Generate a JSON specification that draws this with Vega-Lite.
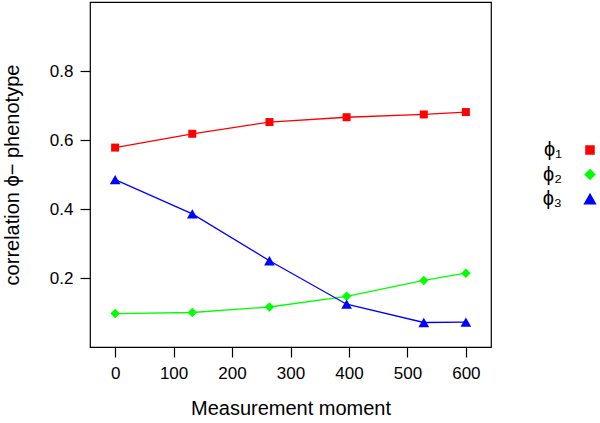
{
  "$schema": "https://vega.github.io/schema/vega-lite/v6.json",
  "width": 401,
  "height": 345,
  "autosize": "none",
  "padding": {"left": 90, "top": 2, "right": 109, "bottom": 76},
  "background": "white",
  "config": {
    "font": "Liberation Sans",
    "view": {"stroke": "black", "strokeWidth": 1.2},
    "legend": {
      "title": null, "orient": "none", "legendX": 490, "legendY": 138,
      "labelFontSize": 20, "labelColor": "black", "rowPadding": 4.5,
      "labelAlign": "right", "labelOffset": -38
    }
  },
  "data": {
    "values": [
      {"t": 0, "v": 0.578, "s": "ϕ₁"},
      {"t": 132, "v": 0.618, "s": "ϕ₁"},
      {"t": 264, "v": 0.652, "s": "ϕ₁"},
      {"t": 396, "v": 0.666, "s": "ϕ₁"},
      {"t": 528, "v": 0.674, "s": "ϕ₁"},
      {"t": 600, "v": 0.681, "s": "ϕ₁"},
      {"t": 0, "v": 0.097, "s": "ϕ₂"},
      {"t": 132, "v": 0.100, "s": "ϕ₂"},
      {"t": 264, "v": 0.116, "s": "ϕ₂"},
      {"t": 396, "v": 0.147, "s": "ϕ₂"},
      {"t": 528, "v": 0.193, "s": "ϕ₂"},
      {"t": 600, "v": 0.214, "s": "ϕ₂"},
      {"t": 0, "v": 0.485, "s": "ϕ₃"},
      {"t": 132, "v": 0.386, "s": "ϕ₃"},
      {"t": 264, "v": 0.250, "s": "ϕ₃"},
      {"t": 396, "v": 0.124, "s": "ϕ₃"},
      {"t": 528, "v": 0.071, "s": "ϕ₃"},
      {"t": 600, "v": 0.072, "s": "ϕ₃"}
    ]
  },
  "encoding": {
    "x": {
      "field": "t", "type": "quantitative",
      "scale": {"domain": [-43, 643], "nice": false, "zero": false},
      "axis": {
        "values": [0, 100, 200, 300, 400, 500, 600],
        "title": "Measurement moment",
        "grid": false, "domain": false,
        "tickColor": "black", "tickSize": 10, "tickWidth": 1.2,
        "labelFontSize": 17, "labelColor": "black", "labelPadding": 8,
        "titleFontSize": 20, "titleFontWeight": "normal", "titleColor": "black", "titlePadding": 17
      }
    },
    "y": {
      "field": "v", "type": "quantitative",
      "scale": {"domain": [0, 1], "nice": false},
      "axis": {
        "values": [0.2, 0.4, 0.6, 0.8],
        "format": ".1f",
        "title": "correlation ϕ− phenotype",
        "grid": false, "domain": false,
        "tickColor": "black", "tickSize": 10, "tickWidth": 1.2,
        "labelFontSize": 17, "labelColor": "black", "labelPadding": 7,
        "titleFontSize": 20, "titleFontWeight": "normal", "titleColor": "black", "titlePadding": 27
      }
    },
    "color": {"field": "s", "type": "nominal",
      "scale": {"domain": ["ϕ₁", "ϕ₂", "ϕ₃"], "range": ["#FF0000", "#00FF00", "#0000FF"]}}
  },
  "layer": [
    {
      "mark": {"type": "line", "strokeWidth": 1.3}
    },
    {
      "mark": {"type": "point", "filled": true, "opacity": 1},
      "encoding": {
        "shape": {"field": "s", "type": "nominal",
          "scale": {"domain": ["ϕ₁", "ϕ₂", "ϕ₃"], "range": ["square", "diamond", "triangle-up"]}},
        "size": {"field": "s", "type": "nominal",
          "scale": {"domain": ["ϕ₁", "ϕ₂", "ϕ₃"], "range": [64, 115, 128]}}
      }
    }
  ]
}
